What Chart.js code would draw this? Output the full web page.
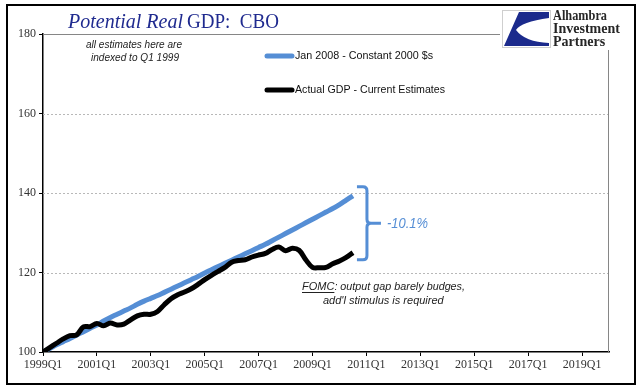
<!DOCTYPE html>
<html lang="en">
<head>
<meta charset="UTF-8">
<title>Potential Real GDP: CBO</title>
<script src="https://cdn.jsdelivr.net/npm/chart.js"></script>
<style>
  html, body { margin: 0; padding: 0; background: #fff; }
  #wrap { width: 641px; height: 392px; }
</style>
</head>
<body>
<div id="wrap"><canvas id="gdp-chart" width="641" height="392"></canvas></div>
<script>
// tick labels every 8 quarters, starting 1999Q1
const xTickLabels = ['1999Q1', '2001Q1', '2003Q1', '2005Q1', '2007Q1', '2009Q1',
                     '2011Q1', '2013Q1', '2015Q1', '2017Q1', '2019Q1'];

// quarterly values, 1999Q1 .. 2010Q3, indexed to Q1 1999 = 100
const potentialJan2008 = [
  100.0, 100.9, 101.8, 102.6, 103.4, 104.3, 105.1, 106.0, 106.8, 107.8,
  108.7, 109.5, 110.3, 111.1, 112.0, 112.8, 113.5, 114.2, 115.0, 115.8,
  116.6, 117.4, 118.2, 119.0, 119.9, 120.7, 121.5, 122.3, 123.1, 123.9,
  124.7, 125.5, 126.3, 127.1, 128.0, 128.9, 129.8, 130.7, 131.6, 132.5,
  133.4, 134.3, 135.2, 136.1, 137.1, 138.2, 139.3
];
const actualGdp = [
  100.0, 101.1, 102.2, 103.3, 104.1, 104.3, 106.3, 106.4, 107.2, 106.6,
  107.3, 106.8, 107.0, 108.1, 109.1, 109.5, 109.5, 110.2, 111.9, 113.4,
  114.4, 115.1, 115.9, 117.0, 118.2, 119.3, 120.3, 121.3, 122.6, 123.0,
  123.2, 123.9, 124.4, 124.8, 125.8, 126.4, 125.5, 126.1, 125.6, 123.2,
  121.3, 121.2, 121.3, 122.2, 122.9, 123.8, 125.0
];

const seriesNames = ['Jan 2008 - Constant 2000 $s', 'Actual GDP - Current Estimates'];
const seriesColors = ['#558ed5', '#000000'];
const gapLabel = '-10.1%';

const serif = '"Liberation Serif", "DejaVu Serif", serif';
const sans = '"Liberation Sans", Arial, sans-serif';

const toPoints = arr => arr.map((v, i) => ({ x: i, y: v }));

// dashed gridlines, plot frame and all the text boxes Excel had floating around
const decorations = {
  id: 'decorations',
  beforeDatasetsDraw(chart) {
    const { ctx, chartArea: a, scales: { y } } = chart;
    ctx.save();
    ctx.lineWidth = 1;
    ctx.strokeStyle = '#b8b8b8';
    ctx.setLineDash([2, 2]);
    y.ticks.forEach(t => {
      if (t.value <= y.min || t.value >= y.max) return;
      const py = Math.round(y.getPixelForValue(t.value)) + 0.5;
      ctx.beginPath(); ctx.moveTo(a.left, py); ctx.lineTo(a.right, py); ctx.stroke();
    });
    ctx.setLineDash([]);
    ctx.strokeStyle = '#868686';
    ctx.beginPath();
    ctx.moveTo(a.left, a.top + 0.5); ctx.lineTo(500, a.top + 0.5);
    ctx.moveTo(a.right - 0.5, 50); ctx.lineTo(a.right - 0.5, a.bottom);
    ctx.stroke();
    ctx.restore();
  },
  afterDraw(chart) {
    const { ctx, scales: { x, y } } = chart;
    ctx.save();

    // outer frame
    ctx.strokeStyle = '#000';
    ctx.lineWidth = 2;
    ctx.strokeRect(7, 5, 628, 379);

    // title
    ctx.fillStyle = '#1f2a8f';
    ctx.textBaseline = 'alphabetic';
    ctx.font = 'italic 20px ' + serif;
    ctx.fillText('Potential Real', 68, 28, 115);
    ctx.font = '20px ' + serif;
    ctx.fillText('GDP:  CBO', 187, 28, 92);

    // logo
    ctx.strokeStyle = '#cfcfcf';
    ctx.lineWidth = 1;
    ctx.strokeRect(502.5, 10.5, 48, 37);
    ctx.fillStyle = '#1b2a8c';
    ctx.beginPath();
    ctx.moveTo(519, 12); ctx.lineTo(549, 12); ctx.lineTo(549, 18);
    ctx.quadraticCurveTo(521, 22, 516, 30);
    ctx.quadraticCurveTo(525, 42, 549, 43);
    ctx.lineTo(549, 46); ctx.lineTo(504, 46);
    ctx.closePath();
    ctx.fill();
    ctx.fillStyle = '#262626';
    ctx.font = 'bold 14px ' + serif;
    ctx.fillText('Alhambra', 553, 20, 54);
    ctx.fillText('Investment', 553, 33, 70);
    ctx.fillText('Partners', 553, 46, 54);

    // note about indexing
    ctx.fillStyle = '#222';
    ctx.textAlign = 'center';
    ctx.textBaseline = 'middle';
    ctx.font = 'italic 10.5px ' + sans;
    ctx.fillText('all estimates here are', 134, 45, 96);
    ctx.fillText('indexed to Q1 1999', 135, 58, 88);

    // legend
    ctx.textAlign = 'left';
    ctx.font = '11px ' + sans;
    [56, 90].forEach((ly, i) => {
      ctx.strokeStyle = seriesColors[i];
      ctx.lineWidth = 5;
      ctx.lineCap = 'round';
      ctx.beginPath(); ctx.moveTo(267, ly); ctx.lineTo(292, ly); ctx.stroke();
      ctx.fillStyle = '#111';
      ctx.fillText(seriesNames[i], 295, ly, i === 0 ? 138 : 150);
    });

    // bracket between the two series end points
    const last = potentialJan2008.length - 1;
    const xl = x.getPixelForValue(last) + 4;
    const xv = xl + 10;
    const yTop = y.getPixelForValue(potentialJan2008[last]) - 9;
    const yBot = y.getPixelForValue(actualGdp[last]) + 7;
    const yMid = (yTop + yBot) / 2;
    ctx.strokeStyle = seriesColors[0];
    ctx.lineWidth = 3;
    ctx.lineCap = 'butt';
    ctx.beginPath();
    ctx.moveTo(xl, yTop); ctx.lineTo(xv - 4, yTop);
    ctx.quadraticCurveTo(xv, yTop, xv, yTop + 4);
    ctx.lineTo(xv, yMid - 4);
    ctx.quadraticCurveTo(xv, yMid, xv + 4, yMid);
    ctx.lineTo(xv + 14, yMid);
    ctx.moveTo(xv + 4, yMid);
    ctx.quadraticCurveTo(xv, yMid, xv, yMid + 4);
    ctx.lineTo(xv, yBot - 4);
    ctx.quadraticCurveTo(xv, yBot, xv - 4, yBot);
    ctx.lineTo(xl, yBot);
    ctx.stroke();
    ctx.fillStyle = seriesColors[0];
    ctx.font = 'italic 14px ' + sans;
    ctx.fillText(gapLabel, xv + 20, yMid + 1, 41);

    // FOMC comment
    ctx.fillStyle = '#222';
    ctx.font = 'italic 11px ' + sans;
    const fw = ctx.measureText('FOMC').width;
    ctx.fillText('FOMC', 302, 287);
    ctx.fillText(': output gap barely budges,', 302 + fw, 287, 163 - fw);
    ctx.fillRect(302, 292, fw, 1);
    ctx.fillText("add'l stimulus is required", 323, 301, 122);

    ctx.restore();
  }
};

new Chart(document.getElementById('gdp-chart').getContext('2d'), {
  type: 'line',
  data: {
    datasets: [
      {
        label: seriesNames[0],
        data: toPoints(potentialJan2008),
        borderColor: seriesColors[0],
        borderWidth: 5,
        pointRadius: 0,
        tension: 0.35,
        order: 2
      },
      {
        label: seriesNames[1],
        data: toPoints(actualGdp),
        borderColor: seriesColors[1],
        borderWidth: 5,
        pointRadius: 0,
        tension: 0.35,
        order: 1
      }
    ]
  },
  options: {
    responsive: false,
    animation: false,
    devicePixelRatio: 1,
    layout: { padding: { left: 0, top: 34, right: 32, bottom: 0 } },
    plugins: { legend: { display: false }, tooltip: { enabled: false } },
    scales: {
      x: {
        type: 'linear',
        min: 0,
        max: 84,
        afterBuildTicks: s => { s.ticks = s.ticks.filter(t => t.value % 8 === 0); },
        afterFit: s => { s.height = 40; },
        ticks: {
          stepSize: 8,
          autoSkip: false,
          maxRotation: 0,
          padding: 2,
          color: '#333',
          font: { family: serif, size: 12 },
          callback: v => xTickLabels[v / 8]
        },
        grid: { drawOnChartArea: false, tickLength: 4, color: '#000' },
        border: { color: '#000', width: 1.5 }
      },
      y: {
        min: 100,
        max: 180,
        afterFit: s => { s.width = 43; },
        ticks: {
          stepSize: 20,
          padding: 3,
          color: '#333',
          font: { family: serif, size: 12 }
        },
        grid: { drawOnChartArea: false, tickLength: 4, color: '#000' },
        border: { color: '#000', width: 1.5 }
      }
    }
  },
  plugins: [decorations]
});
</script>
</body>
</html>
